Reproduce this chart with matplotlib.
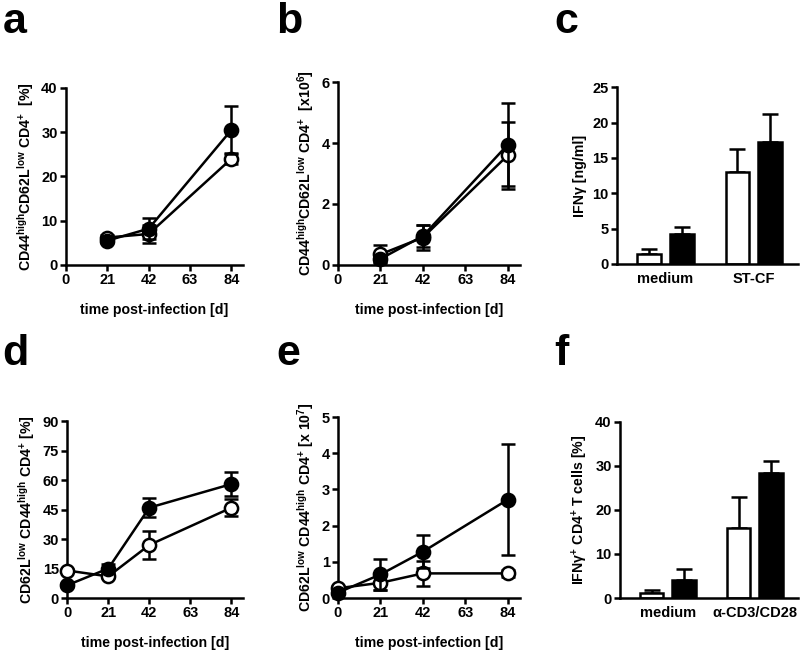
import matplotlib
matplotlib.use("Agg")
import matplotlib.pyplot as plt
import numpy as np

plt.rcParams['font.family'] = ['Liberation Sans', 'DejaVu Sans']
plt.rcParams['font.weight'] = 'bold'
plt.rcParams['axes.labelweight'] = 'bold'
plt.rcParams['mathtext.fontset'] = 'custom'
plt.rcParams['mathtext.rm'] = 'Liberation Sans'
plt.rcParams['mathtext.bf'] = 'Liberation Sans:bold'

# ---------------- data ----------------
days_abc = [21, 42, 84]
days_de = [0, 21, 42, 84]
xticks_time = [0, 21, 42, 63, 84]

# panel a
a_black = [5.5, 8.2, 30.5]
a_black_err = [0.6, 2.3, 5.5]
a_white = [6.2, 7.0, 24.0]
a_white_err = [0.5, 2.0, 1.3]

# panel b
b_black = [0.2, 0.95, 3.95]
b_black_err = [0.1, 0.35, 1.35]
b_white = [0.35, 0.9, 3.6]
b_white_err = [0.3, 0.4, 1.1]

# panel c
c_groups = ['medium', 'ST-CF']
c_white = [1.4, 13.0]
c_white_err = [0.7, 3.2]
c_black = [4.2, 17.3]
c_black_err = [1.0, 3.9]

# panel d
d_black = [6.5, 15.0, 46.0, 58.0]
d_black_err = [1.0, 2.5, 5.0, 6.0]
d_white = [14.0, 11.0, 27.0, 46.0]
d_white_err = [1.0, 1.0, 7.0, 4.5]

# panel e
e_black = [0.15, 0.65, 1.28, 2.72]
e_black_err = [0.05, 0.42, 0.45, 1.53]
e_white = [0.27, 0.42, 0.68, 0.68]
e_white_err = [0.05, 0.2, 0.34, 0.1]

# panel f
f_groups = ['medium', 'α-CD3/CD28']
f_white = [1.2, 16.0]
f_white_err = [0.6, 7.0]
f_black = [4.1, 28.3]
f_black_err = [2.5, 2.9]

# ---------------- figure ----------------
fig = plt.figure(figsize=(8.0, 6.51), dpi=100)

def style(ax):
    for s in ['top', 'right']:
        ax.spines[s].set_visible(False)
    for s in ['left', 'bottom']:
        ax.spines[s].set_linewidth(1.8)
    ax.tick_params(width=1.8, length=4, labelsize=10.5, pad=2)
    for lab in ax.get_xticklabels() + ax.get_yticklabels():
        lab.set_fontweight('bold')

def line_panel(rect, x, black, berr, white, werr, ylim, yticks, ylabel):
    ax = fig.add_axes(rect)
    ax.errorbar(x, white, yerr=werr, color='black', lw=1.8, capsize=5, capthick=1.8,
                marker='o', ms=9.5, mfc='white', mec='black', mew=1.8, zorder=3)
    ax.errorbar(x, black, yerr=berr, color='black', lw=1.8, capsize=5, capthick=1.8,
                marker='o', ms=9.5, mfc='black', mec='black', mew=1.8, zorder=4)
    ax.set_xlim(0, 90)
    ax.set_ylim(*ylim)
    ax.set_xticks(xticks_time)
    ax.set_yticks(yticks)
    ax.set_xlabel('time post-infection [d]', fontsize=10.2, fontweight='bold', labelpad=11)
    ax.set_ylabel(ylabel, fontsize=10.2, fontweight='bold', labelpad=4)
    for c in ax.get_children():
        if hasattr(c, 'set_clip_on'):
            c.set_clip_on(False)
    style(ax)
    return ax

def bar_panel(rect, groups, white, werr, black, berr, ylim, yticks, ylabel):
    ax = fig.add_axes(rect)
    pos = np.arange(len(groups))
    w = 0.27
    off = 0.186
    ax.bar(pos - off, white, width=w, color='white', edgecolor='black', lw=1.8, zorder=2)
    ax.bar(pos + off, black, width=w, color='black', edgecolor='black', lw=1.8, zorder=2)
    ax.errorbar(pos - off, white, yerr=[np.zeros(len(white)), werr], fmt='none',
                ecolor='black', elinewidth=1.8, capsize=6, capthick=1.8, zorder=1)
    ax.errorbar(pos + off, black, yerr=[np.zeros(len(black)), berr], fmt='none',
                ecolor='black', elinewidth=1.8, capsize=6, capthick=1.8, zorder=1)
    ax.set_xlim(-0.548, 1.497)
    ax.set_ylim(*ylim)
    ax.set_yticks(yticks)
    ax.set_xticks(pos)
    ax.set_xticklabels(groups)
    ax.set_ylabel(ylabel, fontsize=10.2, fontweight='bold', labelpad=4)
    style(ax)
    ax.tick_params(axis='x', length=0, pad=6)
    return ax

line_panel([0.0825, 0.593, 0.2215, 0.272], days_abc, a_black, a_black_err, a_white, a_white_err,
           (0, 40), [0, 10, 20, 30, 40],
           r'CD44$^{\mathrm{high}}$CD62L$^{\mathrm{low}}$ CD4$^{+}$  [%]')
line_panel([0.4225, 0.593, 0.2275, 0.281], days_abc, b_black, b_black_err, b_white, b_white_err,
           (0, 6), [0, 2, 4, 6],
           r'CD44$^{\mathrm{high}}$CD62L$^{\mathrm{low}}$ CD4$^{+}$  [x10$^{6}$]')
bar_panel([0.771, 0.5945, 0.2265, 0.2715], c_groups, c_white, c_white_err, c_black, c_black_err,
          (0, 25), [0, 5, 10, 15, 20, 25], 'IFNγ [ng/ml]')
line_panel([0.084, 0.0814, 0.22, 0.2716], days_de, d_black, d_black_err, d_white, d_white_err,
           (0, 90), [0, 15, 30, 45, 60, 75, 90],
           r'CD62L$^{\mathrm{low}}$ CD44$^{\mathrm{high}}$ CD4$^{+}$ [%]')
line_panel([0.4225, 0.0814, 0.2275, 0.278], days_de, e_black, e_black_err, e_white, e_white_err,
           (0, 5), [0, 1, 2, 3, 4, 5],
           r'CD62L$^{\mathrm{low}}$ CD44$^{\mathrm{high}}$ CD4$^{+}$ [x 10$^{7}$]')
bar_panel([0.775, 0.0814, 0.2225, 0.2706], f_groups, f_white, f_white_err, f_black, f_black_err,
          (0, 40), [0, 10, 20, 30, 40], r'IFNγ$^{+}$ CD4$^{+}$ T cells [%]')

letters = [('a', 0.003, 0.949), ('b', 0.345, 0.949), ('c', 0.693, 0.949),
           ('d', 0.003, 0.439), ('e', 0.345, 0.439), ('f', 0.693, 0.439)]
for t, x, y in letters:
    fig.text(x, y, t, fontsize=31, fontweight='bold', va='baseline', ha='left')

fig.savefig('out.png', dpi=100)
